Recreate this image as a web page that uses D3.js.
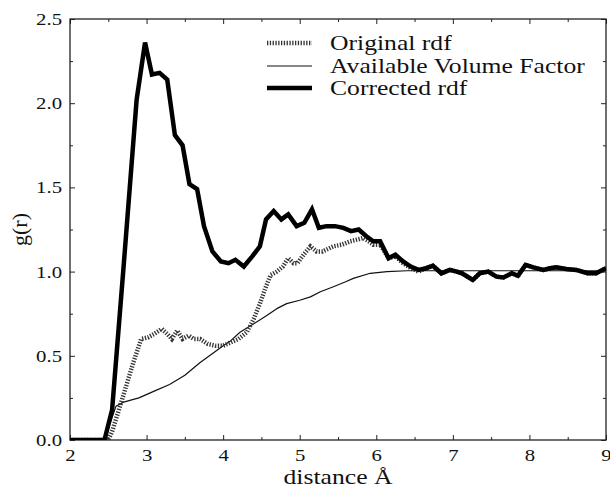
<!DOCTYPE html>
<html>
<head>
<meta charset="utf-8">
<script src="https://cdn.jsdelivr.net/npm/d3@7"></script>
<style>
  html, body { margin: 0; padding: 0; background: #fff; }
  svg { display: block; }
  text { font-family: "Liberation Serif", "Times New Roman", serif; fill: #111; }
</style>
</head>
<body>
<svg id="chart" width="610" height="489"></svg>
<script>
// ---------- data ----------
const corrR = [2.0, 2.45, 2.55, 2.7, 2.87, 2.98, 3.07, 3.17, 3.27, 3.37, 3.47, 3.56, 3.66, 3.75, 3.86, 3.97, 4.07, 4.16, 4.27, 4.38, 4.48, 4.56, 4.66, 4.76, 4.85, 4.96, 5.06, 5.16, 5.25, 5.35, 5.46, 5.57, 5.67, 5.77, 5.87, 5.96, 6.05, 6.16, 6.25, 6.35, 6.45, 6.55, 6.65, 6.74, 6.85, 6.96, 7.05, 7.12, 7.26, 7.35, 7.46, 7.57, 7.66, 7.77, 7.85, 7.95, 8.05, 8.18, 8.27, 8.35, 8.48, 8.61, 8.76, 8.87, 9.0];
const corrG = [0, 0, 0.18, 1.03, 2.02, 2.36, 2.17, 2.18, 2.14, 1.81, 1.75, 1.52, 1.49, 1.27, 1.12, 1.06, 1.05, 1.07, 1.03, 1.09, 1.15, 1.31, 1.36, 1.31, 1.34, 1.27, 1.29, 1.37, 1.26, 1.27, 1.27, 1.26, 1.24, 1.25, 1.21, 1.18, 1.18, 1.08, 1.10, 1.06, 1.03, 1.01, 1.02, 1.035, 0.99, 1.01, 1.0, 0.99, 0.95, 0.99, 1.0, 0.97, 0.965, 0.99, 0.975, 1.04, 1.025, 1.01, 1.02, 1.025, 1.015, 1.01, 0.99, 0.99, 1.02];

const origR = [2.0, 2.5, 2.55, 2.7, 2.82, 2.93, 3.02, 3.1, 3.2, 3.27, 3.33, 3.4, 3.47, 3.55, 3.62, 3.7, 3.8, 3.9, 4.0, 4.1, 4.2, 4.31, 4.4, 4.48, 4.55, 4.62, 4.7, 4.78, 4.85, 4.92, 4.97, 5.05, 5.14, 5.22, 5.3, 5.44, 5.55, 5.66, 5.75, 5.83, 5.9, 5.96, 6.05, 6.16, 6.25, 6.35, 6.45, 6.55, 6.65, 6.74, 6.85, 6.96, 7.05, 7.12, 7.26, 7.35, 7.46, 7.57, 7.66, 7.77, 7.85, 7.95, 8.05, 8.18, 8.27, 8.35, 8.48, 8.61, 8.76, 8.87, 9.0];
const origG = [0, 0, 0.05, 0.27, 0.45, 0.6, 0.61, 0.63, 0.66, 0.63, 0.6, 0.65, 0.6, 0.62, 0.6, 0.6, 0.57, 0.56, 0.56, 0.58, 0.6, 0.64, 0.72, 0.81, 0.9, 0.98, 1.0, 1.03, 1.08, 1.05, 1.05, 1.1, 1.15, 1.12, 1.12, 1.15, 1.16, 1.18, 1.19, 1.2, 1.18, 1.16, 1.16, 1.08, 1.09, 1.05, 1.02, 1.0, 1.02, 1.035, 0.99, 1.01, 1.0, 0.99, 0.95, 0.99, 1.0, 0.97, 0.965, 0.99, 0.975, 1.04, 1.025, 1.01, 1.02, 1.025, 1.015, 1.01, 0.99, 0.99, 1.02];

const avfR = [2.0, 2.45, 2.6, 2.7, 2.9, 3.1, 3.3, 3.5, 3.7, 3.88, 4.0, 4.1, 4.22, 4.4, 4.57, 4.7, 4.83, 5.0, 5.14, 5.27, 5.44, 5.6, 5.7, 5.92, 6.14, 6.4, 9.0];
const avfG = [0, 0, 0.2, 0.225, 0.25, 0.29, 0.33, 0.385, 0.46, 0.52, 0.56, 0.59, 0.64, 0.69, 0.74, 0.78, 0.81, 0.83, 0.85, 0.88, 0.91, 0.94, 0.96, 0.99, 1.0, 1.005, 1.005];

const xMajor = [2, 3, 4, 5, 6, 7, 8, 9];
const xMinor = [2.5, 3.5, 4.5, 5.5, 6.5, 7.5, 8.5];
const yMajor = [0, 0.5, 1.0, 1.5, 2.0, 2.5];
const yMinor = [0.25, 0.75, 1.25, 1.75, 2.25];
const yTickLabels = ["0.0", "0.5", "1.0", "1.5", "2.0", "2.5"];

const legendLabels = ["Original rdf", "Available Volume Factor", "Corrected rdf"];
const xTitle = "distance Å";
const yTitle = "g(r)";

// ---------- layout ----------
const svg = d3.select("#chart");
const L = 70, R = 606, T = 19, B = 440;
const x = d3.scaleLinear().domain([2, 9]).range([L, R]);
const y = d3.scaleLinear().domain([0, 2.5]).range([B, T]);
const STRETCH = 1.22; // the reference's Computer Modern face is wider than Times

function widen(sel, k) {
  sel.each(function() {
    const w = this.getComputedTextLength();
    if (w > 0) d3.select(this).attr("textLength", w * k).attr("lengthAdjust", "spacingAndGlyphs");
  });
}

// axes (inward ticks)
function addAxis(axisFn, trans, vals, size, labels, pad) {
  const a = axisFn.tickValues(vals).tickSizeInner(-size).tickSizeOuter(0).tickPadding(pad);
  if (labels) a.tickFormat((d, i) => labels[i]); else a.tickFormat("");
  const g = svg.append("g").attr("transform", trans).call(a);
  g.select(".domain").remove();
  g.selectAll(".tick line").attr("stroke", "#222").attr("stroke-width", 1);
  g.selectAll("text").style("font-family", "'Liberation Serif', serif").style("font-size", "17px").attr("fill", "#111");
  if (labels) widen(g.selectAll("text"), STRETCH);
  return g;
}
addAxis(d3.axisBottom(x), `translate(0,${B})`, xMajor, 5, xMajor.map(String), 9);
addAxis(d3.axisBottom(x), `translate(0,${B})`, xMinor, 3, null, 0);
addAxis(d3.axisTop(x), `translate(0,${T})`, xMajor, 5, null, 0);
addAxis(d3.axisTop(x), `translate(0,${T})`, xMinor, 3, null, 0);
addAxis(d3.axisLeft(y), `translate(${L},0)`, yMajor, 5, yTickLabels, 8);
addAxis(d3.axisLeft(y), `translate(${L},0)`, yMinor, 3, null, 0);
addAxis(d3.axisRight(y), `translate(${R},0)`, yMajor, 5, null, 0);
addAxis(d3.axisRight(y), `translate(${R},0)`, yMinor, 3, null, 0);

// frame
svg.append("rect").attr("x", L).attr("y", T).attr("width", R - L).attr("height", B - T)
  .attr("fill", "none").attr("stroke", "#222").attr("stroke-width", 1.3);

// lines
const line = d3.line().x(d => x(d[0])).y(d => y(d[1]));
svg.append("clipPath").attr("id", "clip").append("rect")
  .attr("x", L).attr("y", T - 5).attr("width", R - L).attr("height", B - T + 5);
const plot = svg.append("g").attr("clip-path", "url(#clip)");

plot.append("path").datum(d3.zip(avfR, avfG)).attr("d", line)
  .attr("fill", "none").attr("stroke", "#111").attr("stroke-width", 1.2).attr("stroke-linejoin", "round");
plot.append("path").datum(d3.zip(origR, origG)).attr("d", line)
  .attr("fill", "none").attr("stroke", "#333").attr("stroke-width", 4.5).attr("stroke-dasharray", "1.3,1.5");
plot.append("path").datum(d3.zip(corrR, corrG)).attr("d", line)
  .attr("fill", "none").attr("stroke", "#000").attr("stroke-width", 4.5).attr("stroke-linejoin", "miter");

// legend
const legY = [43, 66, 88];
const legStyles = [
  {w: 4.5, dash: "1.3,1.5", c: "#333"},
  {w: 1.2, dash: null, c: "#111"},
  {w: 4.5, dash: null, c: "#000"}
];
legendLabels.forEach((lab, i) => {
  const ln = svg.append("line").attr("x1", 267).attr("x2", 312).attr("y1", legY[i]).attr("y2", legY[i])
    .attr("stroke", legStyles[i].c).attr("stroke-width", legStyles[i].w);
  if (legStyles[i].dash) ln.attr("stroke-dasharray", legStyles[i].dash);
  const t = svg.append("text").attr("x", 330).attr("y", legY[i]).attr("dy", "0.33em")
    .style("font-size", "21px").text(lab);
  widen(t, STRETCH);
});

// axis titles
const xt = svg.append("text").attr("x", (L + R) / 2).attr("y", 484).attr("text-anchor", "middle")
  .style("font-size", "21px").text(xTitle);
widen(xt, STRETCH);
svg.append("text").attr("transform", `translate(27,${(T + B) / 2}) rotate(-90)`)
  .attr("text-anchor", "middle").style("font-size", "22px").text(yTitle);
</script>
</body>
</html>
